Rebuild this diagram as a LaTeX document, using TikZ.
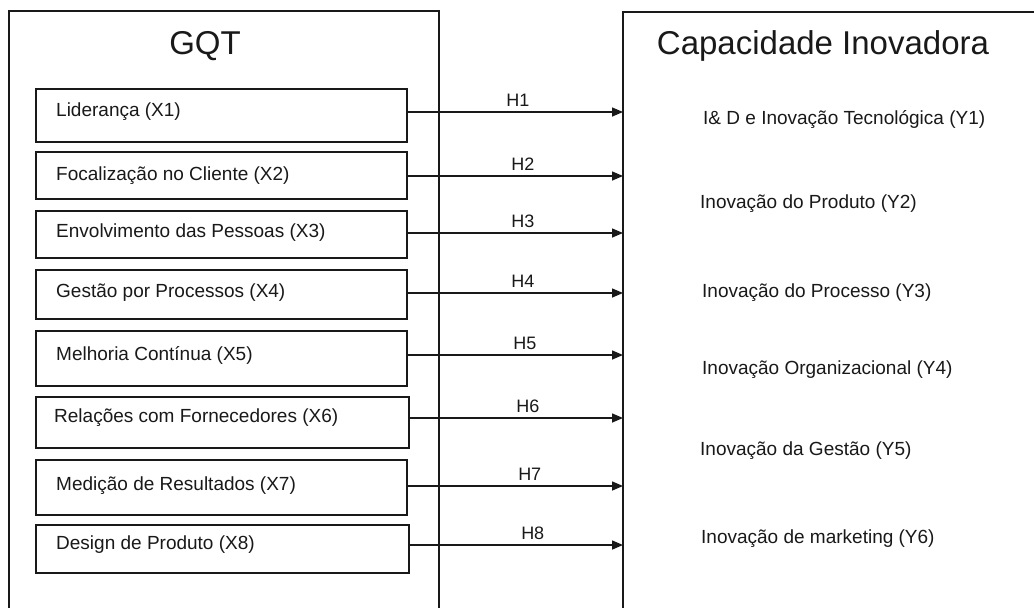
\documentclass[tikz,border=0pt]{standalone}
\usepackage{fontspec}
\setmainfont{Liberation Sans}
\usetikzlibrary{arrows.meta}
\begin{document}
\begin{tikzpicture}[x=1pt,y=-1pt,
  frame/.style={line width=1.3pt, draw=black!90},
  xbox/.style={draw=black!90, line width=1.3pt, rectangle, inner sep=0pt},
  lab/.style={anchor=west, inner sep=0pt, font=\fontsize{19}{22}\selectfont, text=black!90},
  ttl/.style={inner sep=0pt, font=\fontsize{33}{38}\selectfont, text=black!90},
  hlab/.style={inner sep=0pt, yshift=12pt, font=\fontsize{18}{21}\selectfont, text=black!90},
  arr/.style={line width=1.5pt, draw=black!90, -{Triangle[length=11pt,width=9pt]}}]
\useasboundingbox (0,0) rectangle (1034,608);
\fill[white] (0,0) rectangle (1034,608);
% outer frames
\draw[frame] (9,608) -- (9,11) -- (439,11) -- (439,608);
\draw[frame] (623,608) -- (623,12) -- (1034,12);
\coordinate (R) at (623,0);
% titles
\node[ttl] (gqt) at (205,46) {GQT};
\node[ttl] (cap) at (823,46) {Capacidade Inovadora};
% inner boxes
\node[xbox, minimum width=371pt, minimum height=53pt] (x1) at (221.5,115.5) {};
\node[xbox, minimum width=371pt, minimum height=47pt] (x2) at (221.5,175.5) {};
\node[xbox, minimum width=371pt, minimum height=47pt] (x3) at (221.5,234.5) {};
\node[xbox, minimum width=371pt, minimum height=49pt] (x4) at (221.5,294.5) {};
\node[xbox, minimum width=371pt, minimum height=55pt] (x5) at (221.5,358.5) {};
\node[xbox, minimum width=373pt, minimum height=51pt] (x6) at (222.5,422.5) {};
\node[xbox, minimum width=371pt, minimum height=55pt] (x7) at (221.5,487.5) {};
\node[xbox, minimum width=373pt, minimum height=48pt] (x8) at (222.5,549) {};
% box texts
\node[lab] (t1) at (56,112) {Liderança (X1)};
\node[lab] (t2) at (56,176) {Focalização no Cliente (X2)};
\node[lab] (t3) at (56,233) {Envolvimento das Pessoas (X3)};
\node[lab] (t4) at (56,293) {Gestão por Processos (X4)};
\node[lab] (t5) at (56,355) {Melhoria Contínua (X5)};
\node[lab] (t6) at (54,418) {Relações com Fornecedores (X6)};
\node[lab] (t7) at (56,486) {Medição de Resultados (X7)};
\node[lab] (t8) at (56,545) {Design de Produto (X8)};
% arrows
\draw[arr] (t1 -| x1.east) -- node[hlab, pos=0.512] (h1) {H1} (t1 -| R);
\draw[arr] (t2 -| x2.east) -- node[hlab, pos=0.535] (h2) {H2} (t2 -| R);
\draw[arr] (t3 -| x3.east) -- node[hlab, pos=0.535] (h3) {H3} (t3 -| R);
\draw[arr] (t4 -| x4.east) -- node[hlab, pos=0.535] (h4) {H4} (t4 -| R);
\draw[arr] (t5 -| x5.east) -- node[hlab, pos=0.544] (h5) {H5} (t5 -| R);
\draw[arr] (t6 -| x6.east) -- node[hlab, pos=0.554] (h6) {H6} (t6 -| R);
\draw[arr] (t7 -| x7.east) -- node[hlab, pos=0.567] (h7) {H7} (t7 -| R);
\draw[arr] (t8 -| x8.east) -- node[hlab, pos=0.577] (h8) {H8} (t8 -| R);
% right labels
\node[lab] (y1) at (703,120) {I\& D e Inovação Tecnológica (Y1)};
\node[lab] (y2) at (700,204) {Inovação do Produto (Y2)};
\node[lab] (y3) at (702,293) {Inovação do Processo (Y3)};
\node[lab] (y4) at (702,370) {Inovação Organizacional (Y4)};
\node[lab] (y5) at (700,451) {Inovação da Gestão (Y5)};
\node[lab] (y6) at (701,539) {Inovação de marketing (Y6)};
\end{tikzpicture}
\end{document}
